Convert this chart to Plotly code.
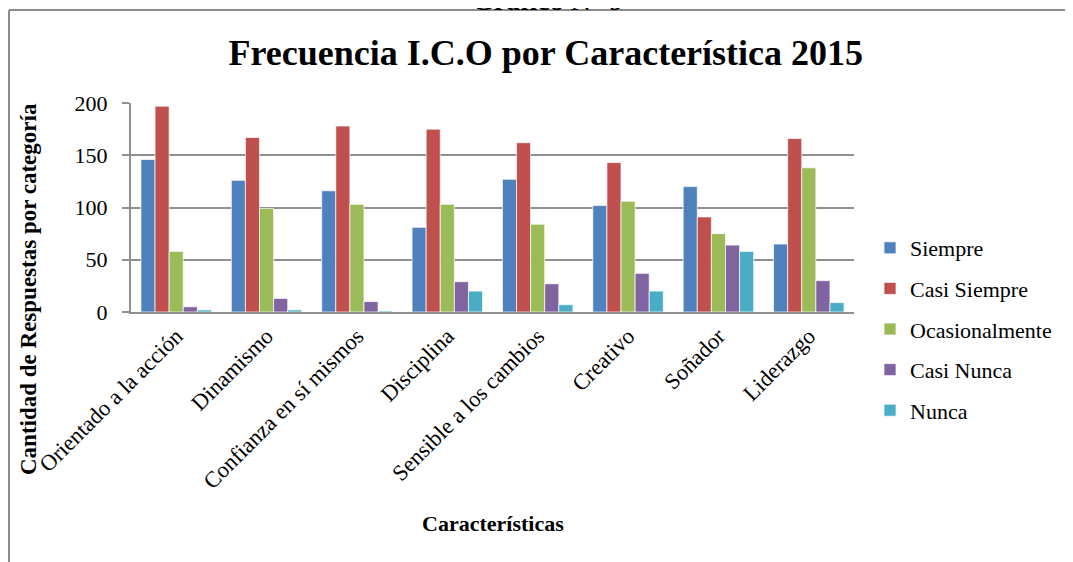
import plotly.graph_objects as go

# ── DATA ──────────────────────────────────────────────────────────────
categorias = [
    "Orientado a la acción", "Dinamismo", "Confianza en sí mismos", "Disciplina",
    "Sensible a los cambios", "Creativo", "Soñador", "Liderazgo",
]
siempre        = [146, 126, 116, 81, 127, 102, 120, 65]
casi_siempre   = [197, 167, 178, 175, 162, 143, 91, 166]
ocasionalmente = [58, 99, 103, 103, 84, 106, 75, 138]
casi_nunca     = [5, 13, 10, 29, 27, 37, 64, 30]
nunca          = [2, 2, 1, 20, 7, 20, 58, 9]

y_ticks = [0, 50, 100, 150, 200]

SERIES = [
    ("Siempre",        siempre,        "#4F81BD"),
    ("Casi Siempre",   casi_siempre,   "#C0504D"),
    ("Ocasionalmente", ocasionalmente, "#9BBB59"),
    ("Casi Nunca",     casi_nunca,     "#8064A2"),
    ("Nunca",          nunca,          "#4BACC6"),
]

FONT = "Liberation Serif, Times New Roman, serif"
GRID = "#8f8f8f"

# page pixel -> paper coords (plot area: x 131..854, y 103..312 on the page)
def px_x(p):
    return (p - 131) / 723

def px_y(p):
    return (312 - p) / 209


fig = go.Figure()
for name, vals, color in SERIES:
    fig.add_trace(go.Bar(
        x=categorias, y=vals, name=name, legendgroup=name,
        marker=dict(color=color, line=dict(color="rgba(255,255,255,0.7)", width=1)),
    ))

# the page body has an 8px margin, so the figure is 8px smaller
fig.update_layout(
    width=1065, height=554,
    paper_bgcolor="white", plot_bgcolor="white",
    margin=dict(l=123, r=219, t=95, b=250),
    font=dict(family=FONT, size=22, color="black"),
    barmode="group", bargap=0.22, bargroupgap=0,
    title=dict(text="<b>Frecuencia I.C.O por Característica 2015</b>",
               x=0.505, xanchor="center", y=0.92, yanchor="middle",
               font=dict(family=FONT, size=36, color="black")),
    legend=dict(x=px_x(870), xanchor="left", y=px_y(329), yanchor="middle",
                traceorder="grouped", tracegroupgap=9,
                font=dict(family=FONT, size=22), bgcolor="rgba(0,0,0,0)"),
)

fig.update_yaxes(
    range=[0, 200], tickvals=y_ticks, showgrid=True, gridcolor=GRID, gridwidth=2,
    zeroline=False, showline=True, linecolor=GRID, linewidth=2,
    ticks="outside", ticklen=7, tickcolor=GRID, tickwidth=2, ticklabelstandoff=10,
    tickfont=dict(family=FONT, size=22),
)
fig.update_xaxes(
    showline=True, linecolor=GRID, linewidth=2, showgrid=False,
    tickangle=-45, tickfont=dict(family=FONT, size=22.5),
)

# axis titles placed where the original puts them
fig.add_annotation(text="<b>Características</b>", xref="paper", yref="paper",
                   x=px_x(493), y=px_y(523), xanchor="center", yanchor="middle",
                   showarrow=False, font=dict(family=FONT, size=22))
fig.add_annotation(text="<b>Cantidad de Respuestas por categoría</b>", xref="paper", yref="paper",
                   x=px_x(28), y=px_y(289), xanchor="center", yanchor="middle",
                   textangle=-90, showarrow=False, font=dict(family=FONT, size=23))
# header of the page, cut off at the top
fig.add_annotation(text="<b>Gráfico N° 9</b>", xref="paper", yref="paper",
                   x=px_x(547), y=px_y(18), xanchor="center", yanchor="bottom",
                   showarrow=False, font=dict(family=FONT, size=28))

# frame around the chart
fig.add_shape(type="line", xref="paper", yref="paper",
              x0=px_x(9), x1=px_x(1080), y0=px_y(10), y1=px_y(10),
              line=dict(color="#8c8c8c", width=2))
fig.add_shape(type="line", xref="paper", yref="paper",
              x0=px_x(9), x1=px_x(9), y0=px_y(10), y1=px_y(570),
              line=dict(color="#8c8c8c", width=2))

fig.write_html("out.html")
